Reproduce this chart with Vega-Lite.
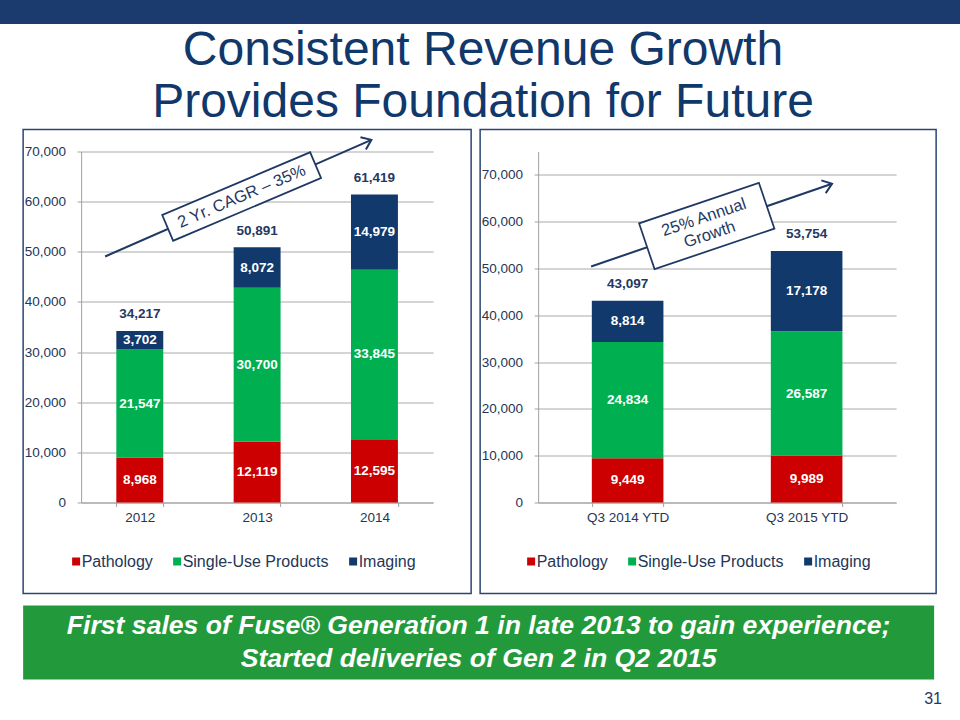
{
  "$schema": "https://vega.github.io/schema/vega-lite/v6.json",
  "background": "white",
  "padding": 0,
  "config": {
    "view": {"stroke": null},
    "font": "Liberation Sans",
    "axis": {"labelFont": "Liberation Sans"},
    "legend": {"labelFont": "Liberation Sans"},
    "title": {"font": "Liberation Sans"},
    "text": {"font": "Liberation Sans"}
  },
  "title": {"text": "31", "orient": "bottom", "anchor": "end", "fontSize": 16, "fontWeight": "normal", "color": "#1F3864", "offset": 11, "dx": -18},
  "datasets": {
    "annual": [
      {"period": "2012", "segment": "Pathology", "value": 8968},
      {"period": "2012", "segment": "Single-Use Products", "value": 21547},
      {"period": "2012", "segment": "Imaging", "value": 3702},
      {"period": "2013", "segment": "Pathology", "value": 12119},
      {"period": "2013", "segment": "Single-Use Products", "value": 30700},
      {"period": "2013", "segment": "Imaging", "value": 8072},
      {"period": "2014", "segment": "Pathology", "value": 12595},
      {"period": "2014", "segment": "Single-Use Products", "value": 33845},
      {"period": "2014", "segment": "Imaging", "value": 14979}
    ],
    "ytd": [
      {"period": "Q3 2014 YTD", "segment": "Pathology", "value": 9449},
      {"period": "Q3 2014 YTD", "segment": "Single-Use Products", "value": 24834},
      {"period": "Q3 2014 YTD", "segment": "Imaging", "value": 8814},
      {"period": "Q3 2015 YTD", "segment": "Pathology", "value": 9989},
      {"period": "Q3 2015 YTD", "segment": "Single-Use Products", "value": 26587},
      {"period": "Q3 2015 YTD", "segment": "Imaging", "value": 17178}
    ],
    "annualArrow": [{"x0": 0.2045, "y0": 49060, "x1": 2.474, "y1": 72333}],
    "annualNote": [{"x": 1.368, "y": 61026, "label": "2 Yr. CAGR – 35%"}],
    "ytdArrow": [{"x0": 0.296, "y0": 50427, "x1": 1.642, "y1": 68098}],
    "ytdNote": [{"x": 0.942, "y": 59081, "label": ["25% Annual", "Growth"]}]
  },
  "spacing": 1.5,
  "center": true,
  "vconcat": [
    {
      "width": 960,
      "height": 24,
      "view": {"fill": "#1B3A6D", "stroke": null},
      "data": {"values": [{}]},
      "mark": {"type": "text", "text": " "},
      "title": {
        "text": ["Consistent Revenue Growth", "Provides Foundation for Future"],
        "orient": "bottom",
        "anchor": "middle",
        "fontSize": 48,
        "fontWeight": "normal",
        "color": "#11386B",
        "lineHeight": 51.5,
        "offset": 3,
        "dx": 3
      }
    },
    {
      "spacing": 11,
      "vconcat": [
        {
          "spacing": 7,
          "resolve": {"scale": {"color": "independent"}},
          "hconcat": [
            {
              "width": 448,
              "height": 464,
              "view": {"stroke": "#2A4675", "strokeWidth": 1.5},
              "resolve": {"scale": {"x": "independent"}},
              "layer": [
                {
                  "data": {"name": "annual"},
                  "encoding": {
                    "x": {
                      "field": "period", "type": "nominal",
                      "scale": {"type": "band", "paddingInner": 0.6, "paddingOuter": 0.3, "range": [58, 410]},
                      "axis": {"title": null, "labelAngle": 0, "offset": -91, "tickBand": "extent", "tickSize": 4, "labelPadding": 4, "labelFontSize": 13.5, "labelColor": "#243656", "domainColor": "#A0A0A0", "tickColor": "#A0A0A0", "grid": false}
                    }
                  },
                  "layer": [
                    {
                      "transform": [{"calculate": "indexof(['Pathology','Single-Use Products','Imaging'], datum.segment)", "as": "rank"}],
                      "mark": {"type": "bar"},
                      "encoding": {
                        "y": {
                          "field": "value", "type": "quantitative", "stack": "zero",
                          "scale": {"domain": [0, 70000], "range": [373, 22]},
                          "axis": {"title": null, "values": [0, 10000, 20000, 30000, 40000, 50000, 60000, 70000], "labelExpr": "format(datum.value, ',')", "offset": -58, "tickSize": 4, "labelPadding": 11.5, "labelFontSize": 13.5, "labelColor": "#243656", "domainColor": "#A0A0A0", "tickColor": "#A0A0A0", "grid": true, "gridColor": "#AAAAAA"}
                        },
                        "color": {
                          "field": "segment", "type": "nominal",
                          "scale": {"domain": ["Pathology", "Single-Use Products", "Imaging"], "range": ["#CC0000", "#00B050", "#12396B"]},
                          "legend": {"title": null, "orient": "none", "legendX": 45, "legendY": 424, "direction": "horizontal", "symbolType": "square", "symbolSize": 64, "symbolStrokeWidth": 0, "labelFontSize": 16, "labelColor": "#243656", "columnPadding": 16, "labelOffset": -2.5, "padding": 0}
                        },
                        "order": {"field": "rank", "type": "quantitative"}
                      }
                    },
                    {
                      "transform": [{"calculate": "indexof(['Pathology','Single-Use Products','Imaging'], datum.segment)", "as": "rank"}],
                      "mark": {"type": "text", "fontWeight": "bold", "fontSize": 13.5, "color": "white", "baseline": "middle"},
                      "encoding": {
                        "y": {"field": "value", "type": "quantitative", "stack": "zero", "bandPosition": 0.5, "scale": {"domain": [0, 70000], "range": [373, 22]}, "axis": {"title": null, "labelExpr": "format(datum.value, ',')"}},
                        "detail": {"field": "segment", "type": "nominal"},
                        "order": {"field": "rank", "type": "quantitative"},
                        "text": {"field": "value", "type": "quantitative", "format": ","}
                      }
                    },
                    {
                      "mark": {"type": "text", "fontWeight": "bold", "fontSize": 13.5, "color": "#1F3864", "baseline": "middle", "dy": -16.5},
                      "encoding": {
                        "y": {"aggregate": "sum", "field": "value", "type": "quantitative", "scale": {"domain": [0, 70000], "range": [373, 22]}, "axis": {"title": null, "labelExpr": "format(datum.value, ',')"}},
                        "text": {"aggregate": "sum", "field": "value", "type": "quantitative", "format": ","}
                      }
                    }
                  ]
                },
                {
                  "data": {"name": "annualArrow"},
                  "layer": [
                    {
                      "mark": {"type": "rule", "color": "#1F3864", "strokeWidth": 2},
                      "encoding": {
                        "x": {"field": "x0", "type": "quantitative", "scale": {"domain": [0, 3], "range": [58, 410]}, "axis": null},
                        "y": {"field": "y0", "type": "quantitative", "scale": {"domain": [0, 70000], "range": [373, 22]}, "axis": {"title": null, "labelExpr": "format(datum.value, ',')"}},
                        "x2": {"field": "x1"},
                        "y2": {"field": "y1"}
                      }
                    },
                    {
                      "mark": {"type": "point", "shape": "M-1,-0.75L0,0L-1,0.75", "size": 324, "angle": -23.7, "filled": false, "stroke": "#1F3864", "strokeWidth": 2, "opacity": 1},
                      "encoding": {
                        "x": {"field": "x1", "type": "quantitative", "scale": {"domain": [0, 3], "range": [58, 410]}, "axis": null},
                        "y": {"field": "y1", "type": "quantitative", "scale": {"domain": [0, 70000], "range": [373, 22]}, "axis": {"title": null, "labelExpr": "format(datum.value, ',')"}}
                      }
                    }
                  ]
                },
                {
                  "data": {"name": "annualNote"},
                  "encoding": {
                    "x": {"field": "x", "type": "quantitative", "scale": {"domain": [0, 3], "range": [58, 410]}, "axis": null},
                    "y": {"field": "y", "type": "quantitative", "scale": {"domain": [0, 70000], "range": [373, 22]}, "axis": {"title": null, "labelExpr": "format(datum.value, ',')"}}
                  },
                  "layer": [
                    {"mark": {"type": "point", "shape": "M-1,-0.174H1V0.174H-1Z", "size": 25825, "angle": -23, "filled": true, "fill": "white", "stroke": "#1F3864", "strokeWidth": 1.75, "opacity": 1}},
                    {
                      "mark": {"type": "text", "angle": -23, "fontSize": 16.5, "color": "#1F3864", "baseline": "middle", "align": "center"},
                      "encoding": {"text": {"field": "label", "type": "nominal"}}
                    }
                  ]
                }
              ]
            },
            {
              "width": 456,
              "height": 464,
              "view": {"stroke": "#2A4675", "strokeWidth": 1.5},
              "resolve": {"scale": {"x": "independent"}},
              "layer": [
                {
                  "data": {"name": "ytd"},
                  "encoding": {
                    "x": {
                      "field": "period", "type": "nominal",
                      "scale": {"type": "band", "paddingInner": 0.6, "paddingOuter": 0.3, "range": [58, 416]},
                      "axis": {"title": null, "labelAngle": 0, "offset": -91, "tickBand": "extent", "tickSize": 4, "labelPadding": 4, "labelFontSize": 13.5, "labelColor": "#243656", "domainColor": "#A0A0A0", "tickColor": "#A0A0A0", "grid": false}
                    }
                  },
                  "layer": [
                    {
                      "transform": [{"calculate": "indexof(['Pathology','Single-Use Products','Imaging'], datum.segment)", "as": "rank"}],
                      "mark": {"type": "bar"},
                      "encoding": {
                        "y": {
                          "field": "value", "type": "quantitative", "stack": "zero",
                          "scale": {"domain": [0, 75000], "range": [373, 22]},
                          "axis": {"title": null, "values": [0, 10000, 20000, 30000, 40000, 50000, 60000, 70000], "labelExpr": "format(datum.value, ',')", "offset": -58, "tickSize": 4, "labelPadding": 11.5, "labelFontSize": 13.5, "labelColor": "#243656", "domainColor": "#A0A0A0", "tickColor": "#A0A0A0", "grid": true, "gridColor": "#AAAAAA"}
                        },
                        "color": {
                          "field": "segment", "type": "nominal",
                          "scale": {"domain": ["Pathology", "Single-Use Products", "Imaging"], "range": ["#CC0000", "#00B050", "#12396B"]},
                          "legend": {"title": null, "orient": "none", "legendX": 43, "legendY": 424, "direction": "horizontal", "symbolType": "square", "symbolSize": 64, "symbolStrokeWidth": 0, "labelFontSize": 16, "labelColor": "#243656", "columnPadding": 16, "labelOffset": -2.5, "padding": 0}
                        },
                        "order": {"field": "rank", "type": "quantitative"}
                      }
                    },
                    {
                      "transform": [{"calculate": "indexof(['Pathology','Single-Use Products','Imaging'], datum.segment)", "as": "rank"}],
                      "mark": {"type": "text", "fontWeight": "bold", "fontSize": 13.5, "color": "white", "baseline": "middle"},
                      "encoding": {
                        "y": {"field": "value", "type": "quantitative", "stack": "zero", "bandPosition": 0.5, "scale": {"domain": [0, 75000], "range": [373, 22]}, "axis": {"title": null, "labelExpr": "format(datum.value, ',')"}},
                        "detail": {"field": "segment", "type": "nominal"},
                        "order": {"field": "rank", "type": "quantitative"},
                        "text": {"field": "value", "type": "quantitative", "format": ","}
                      }
                    },
                    {
                      "mark": {"type": "text", "fontWeight": "bold", "fontSize": 13.5, "color": "#1F3864", "baseline": "middle", "dy": -16.5},
                      "encoding": {
                        "y": {"aggregate": "sum", "field": "value", "type": "quantitative", "scale": {"domain": [0, 75000], "range": [373, 22]}, "axis": {"title": null, "labelExpr": "format(datum.value, ',')"}},
                        "text": {"aggregate": "sum", "field": "value", "type": "quantitative", "format": ","}
                      }
                    }
                  ]
                },
                {
                  "data": {"name": "ytdArrow"},
                  "layer": [
                    {
                      "mark": {"type": "rule", "color": "#1F3864", "strokeWidth": 2},
                      "encoding": {
                        "x": {"field": "x0", "type": "quantitative", "scale": {"domain": [0, 2], "range": [58, 416]}, "axis": null},
                        "y": {"field": "y0", "type": "quantitative", "scale": {"domain": [0, 75000], "range": [373, 22]}, "axis": {"title": null, "labelExpr": "format(datum.value, ',')"}},
                        "x2": {"field": "x1"},
                        "y2": {"field": "y1"}
                      }
                    },
                    {
                      "mark": {"type": "point", "shape": "M-1,-0.75L0,0L-1,0.75", "size": 324, "angle": -18.9, "filled": false, "stroke": "#1F3864", "strokeWidth": 2, "opacity": 1},
                      "encoding": {
                        "x": {"field": "x1", "type": "quantitative", "scale": {"domain": [0, 2], "range": [58, 416]}, "axis": null},
                        "y": {"field": "y1", "type": "quantitative", "scale": {"domain": [0, 75000], "range": [373, 22]}, "axis": {"title": null, "labelExpr": "format(datum.value, ',')"}}
                      }
                    }
                  ]
                },
                {
                  "data": {"name": "ytdNote"},
                  "encoding": {
                    "x": {"field": "x", "type": "quantitative", "scale": {"domain": [0, 2], "range": [58, 416]}, "axis": null},
                    "y": {"field": "y", "type": "quantitative", "scale": {"domain": [0, 75000], "range": [373, 22]}, "axis": {"title": null, "labelExpr": "format(datum.value, ',')"}}
                  },
                  "layer": [
                    {"mark": {"type": "point", "shape": "M-1,-0.382H1V0.382H-1Z", "size": 16002, "angle": -18.7, "filled": true, "fill": "white", "stroke": "#1F3864", "strokeWidth": 1.75, "opacity": 1}},
                    {
                      "mark": {"type": "text", "angle": -18.7, "fontSize": 16.5, "color": "#1F3864", "baseline": "middle", "align": "center", "lineHeight": 18, "dy": -9},
                      "encoding": {"text": {"field": "label", "type": "nominal"}}
                    }
                  ]
                }
              ]
            }
          ]
        },
        {
          "width": 911,
          "height": 74,
          "view": {"fill": "#229A3B", "stroke": null},
          "data": {"values": [{"note": ["First sales of Fuse® Generation 1 in late 2013 to gain experience;", "Started deliveries of Gen 2 in Q2 2015"]}]},
          "mark": {"type": "text", "fontSize": 26.6, "fontWeight": "bold", "fontStyle": "italic", "color": "white", "baseline": "middle", "align": "center", "lineHeight": 33, "dy": -16.5},
          "encoding": {"text": {"field": "note", "type": "nominal"}}
        }
      ]
    }
  ]
}
